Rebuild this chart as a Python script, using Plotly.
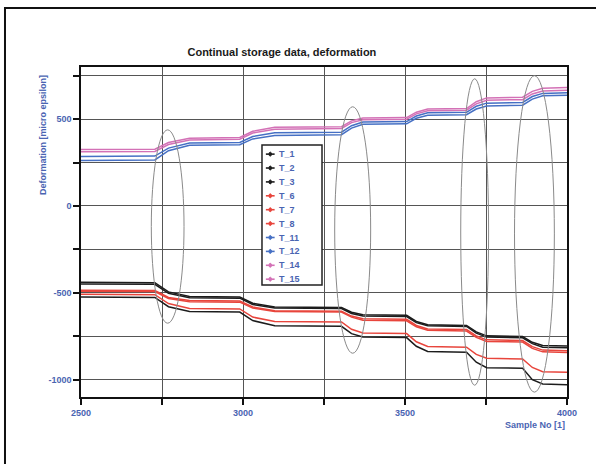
import plotly.graph_objects as go

# ---- data ----
sample_no = [2500, 2728, 2770, 2835, 2990, 3030, 3098, 3304, 3335, 3370,
             3505, 3535, 3570, 3690, 3720, 3752, 3863, 3893, 3925, 4000]

T_1 = [-440, -442, -495, -521, -524, -560, -582, -585, -612, -627,
       -630, -665, -684, -688, -725, -748, -752, -785, -803, -807]
T_2 = [-449, -451, -503, -528, -531, -567, -588, -591, -619, -634,
       -637, -672, -690, -694, -732, -755, -759, -793, -813, -817]
T_3 = [-524, -527, -580, -608, -611, -660, -690, -693, -735, -755,
       -758, -808, -838, -842, -900, -931, -935, -1000, -1025, -1029]
T_6 = [-485, -487, -527, -544, -547, -582, -603, -606, -634, -650,
       -653, -688, -708, -712, -748, -771, -775, -810, -830, -834]
T_7 = [-491, -493, -533, -551, -554, -588, -608, -611, -640, -658,
       -661, -696, -716, -720, -757, -780, -784, -820, -840, -844]
T_8 = [-509, -511, -562, -590, -593, -640, -665, -668, -710, -732,
       -735, -782, -809, -813, -855, -877, -881, -930, -954, -958]
T_11 = [284, 287, 333, 362, 366, 400, 421, 425, 462, 483,
        486, 518, 536, 539, 574, 592, 596, 630, 648, 652]
T_12 = [262, 265, 318, 350, 353, 386, 406, 410, 448, 470,
        473, 505, 522, 525, 558, 576, 580, 615, 634, 638]
T_14 = [325, 327, 365, 390, 394, 430, 453, 456, 490, 506,
        509, 540, 558, 561, 600, 622, 626, 660, 678, 682]
T_15 = [312, 314, 354, 380, 384, 420, 442, 446, 480, 496,
        499, 530, 548, 551, 588, 609, 612, 645, 662, 666]

series_names = ["T_1", "T_2", "T_3", "T_6", "T_7", "T_8", "T_11", "T_12", "T_14", "T_15"]
series_values = [T_1, T_2, T_3, T_6, T_7, T_8, T_11, T_12, T_14, T_15]
series_colors = ["#1c1c1c", "#1c1c1c", "#1c1c1c", "#e8453c", "#e8453c", "#e8453c",
                 "#4670c4", "#4670c4", "#d371b6", "#d371b6"]

x_tick_vals = [2500, 2750, 3000, 3250, 3500, 3750, 4000]
x_tick_text = ["2500", "", "3000", "", "3500", "", "4000"]
y_tick_vals = [-1000, -750, -500, -250, 0, 250, 500, 750]
y_tick_text = ["-1000", "", "-500", "", "0", "", "500", ""]

# highlighted regions (x0, x1, y0, y1) in data units
ellipses = [(2717, 2818, -675, 438),
            (3283, 3394, -848, 571),
            (3672, 3758, -1032, 732),
            (3838, 3961, -1072, 750)]

title_text = "Continual storage data, deformation"
x_title = "Sample No [1]"
y_title = "Deformation [micro epsilon]"

LABEL_BLUE = "#4a64b2"
FONT = "Liberation Sans, Arial, sans-serif"

fig = go.Figure()
for name, vals, col in zip(series_names, series_values, series_colors):
    fig.add_trace(go.Scatter(x=sample_no, y=vals, mode="lines", name=name,
                             line=dict(color=col, width=1.5), showlegend=False))

shapes = []
for (x0, x1, y0, y1) in ellipses:
    shapes.append(dict(type="circle", xref="x", yref="y", x0=x0, x1=x1, y0=y0, y1=y1,
                       line=dict(color="#8a8a8a", width=1), layer="above"))

# outer frame
shapes.append(dict(type="rect", xref="paper", yref="paper",
                   x0=-0.1564, x1=1.07, y0=-0.22, y1=1.1788,
                   line=dict(color="#111111", width=2), layer="below"))

# custom legend box
lx0, lx1, ly0, ly1 = 0.3724, 0.4959, 0.3394, 0.7636
shapes.append(dict(type="rect", xref="paper", yref="paper", x0=lx0, x1=lx1, y0=ly0, y1=ly1,
                   line=dict(color="#222222", width=1.5), fillcolor="white", layer="above"))

annotations = []
n = len(series_names)
top_y = 0.736
step = (0.736 - 0.357) / (n - 1)
for i, (name, col) in enumerate(zip(series_names, series_colors)):
    yy = top_y - i * step
    shapes.append(dict(type="line", xref="paper", yref="paper",
                       x0=lx0 + 0.008, x1=lx0 + 0.026, y0=yy, y1=yy,
                       line=dict(color=col, width=1.6), layer="above"))
    shapes.append(dict(type="circle", xref="paper", yref="paper",
                       x0=lx0 + 0.0145, x1=lx0 + 0.0195, y0=yy - 0.006, y1=yy + 0.006,
                       line=dict(color=col, width=1), fillcolor=col, layer="above"))
    annotations.append(dict(xref="paper", yref="paper", x=lx0 + 0.03, y=yy,
                            xanchor="left", yanchor="middle", showarrow=False,
                            text=f"<b>{name}</b>",
                            font=dict(family=FONT, size=9, color=LABEL_BLUE)))

annotations.append(dict(xref="paper", yref="paper", x=-0.078, y=0.794, textangle=-90,
                        xanchor="center", yanchor="middle", showarrow=False,
                        text=f"<b>{y_title}</b>",
                        font=dict(family=FONT, size=9, color=LABEL_BLUE)))
annotations.append(dict(xref="paper", yref="paper", x=1.0, y=-0.085,
                        xanchor="right", yanchor="middle", showarrow=False,
                        text=f"<b>{x_title}</b>",
                        font=dict(family=FONT, size=9, color=LABEL_BLUE)))

fig.update_layout(
    width=596, height=464,
    margin=dict(l=81, r=29, t=67, b=67),
    paper_bgcolor="white", plot_bgcolor="white",
    title=dict(text=f"<b>{title_text}</b>", x=0.473, xanchor="center",
               y=1 - 52 / 464, yanchor="middle", xref="container", yref="container",
               font=dict(family=FONT, size=11, color="#1a1a1a")),
    shapes=shapes, annotations=annotations, showlegend=False,
)
fig.update_xaxes(range=[2500, 4000], tickmode="array", tickvals=x_tick_vals, ticktext=x_tick_text,
                 showgrid=True, gridcolor="#555555", gridwidth=1, zeroline=False,
                 showline=True, linecolor="#111111", linewidth=1.5, mirror=True,
                 ticks="outside", ticklen=6, tickcolor="#111111", tickwidth=1.5,
                 tickfont=dict(family=FONT, size=9, color=LABEL_BLUE, weight="bold"))
fig.update_yaxes(range=[-1100, 800], tickmode="array", tickvals=y_tick_vals, ticktext=y_tick_text,
                 showgrid=True, gridcolor="#555555", gridwidth=1, zeroline=False,
                 showline=True, linecolor="#111111", linewidth=1.5, mirror=True,
                 ticks="outside", ticklen=6, tickcolor="#111111", tickwidth=1.5,
                 tickfont=dict(family=FONT, size=9, color=LABEL_BLUE, weight="bold"))

fig.write_html("out.html", config={"displayModeBar": False},
               post_script="document.body.style.margin='0px';")
